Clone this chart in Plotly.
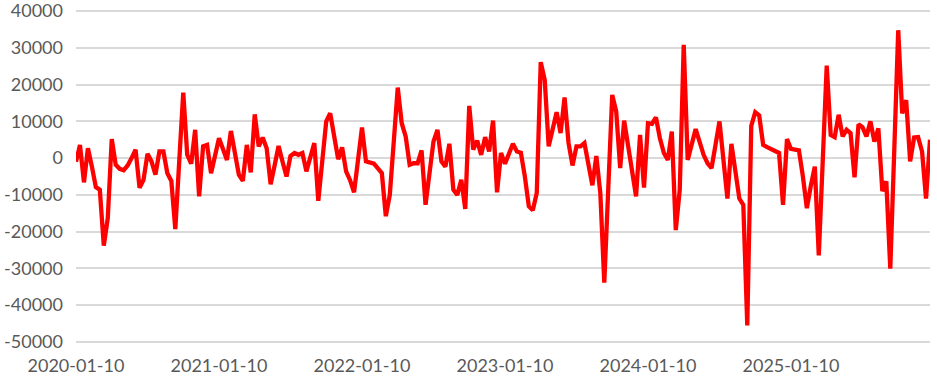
import plotly.graph_objects as go
import pandas as pd

# 10-day period dates (10th, 20th, month end) starting 2020-01-10
dates = []
for m in pd.period_range("2020-01", "2025-12", freq="M"):
    dates.append(f"{m.year:04d}-{m.month:02d}-10")
    dates.append(f"{m.year:04d}-{m.month:02d}-20")
    dates.append(f"{m.year:04d}-{m.month:02d}-{m.days_in_month:02d}")

values = [
    -1000, 3600, -6600, 2700, -2300, -7900, -8600, -23800, -16300, 5200,
    -1800, -2900, -3300, -2000, 0, 2300, -8100, -5900, 1200, -900,
    -4500, 1800, 1800, -4100, -6200, -19300, -700, 17800, 900, -1500,
    7700, -10400, 3200, 3600, -4100, 600, 5400, 2500, -500, 7400,
    1500, -4500, -6200, 3600, -3900, 11900, 3200, 5600, 2700, -7100,
    -2000, 3300, -1000, -5000, 600, 1400, 900, 1400, -3600, 300,
    4100, -11600, -800, 10000, 12200, 6000, -300, 2900, -3600, -6000,
    -9300, -500, 8300, -900, -1200, -1500, -2800, -4100, -15800, -10000,
    4500, 19200, 9500, 5900, -1800, -1400, -1400, 2100, -12700, -4000,
    4500, 7700, -900, -2300, 3900, -8600, -10000, -5900, -13800, 14200,
    2300, 4800, 900, 5700, 1800, 10200, -9300, 1400, -1500, 1200,
    3900, 1800, 1500, -5000, -13100, -14200, -9500, 26100, 21300, 3200,
    8000, 12500, 6800, 16500, 4100, -2000, 3200, 3200, 4100, -1500,
    -7400, 600, -9500, -33900, -8000, 17200, 12700, -2700, 10200, 3200,
    -3500, -10400, 6300, -8000, 9500, 9300, 11100, 5400, 1400, -500,
    7200, -19600, -8600, 30800, -500, 3700, 7900, 4400, 900, -1400,
    -2700, 3600, 10000, -500, -11000, 3900, -3500, -11000, -12700, -45500,
    8800, 12500, 11600, 3600, 3000, 2500, 2000, 1400, -12700, 5200,
    2500, 2300, 2100, -5000, -13600, -7500, -2300, -26500, 0, 25200,
    6300, 5700, 11800, 5900, 7700, 6800, -5200, 9200, 8400, 5900,
    10000, 4500, 8100, -9000, -6300, -30100, 2000, 34800, 12200, 15800,
    -900, 5600, 5700, 1800, -11000, 5000,
]

x = dates[:len(values)]
tick_labels = ["2020-01-10", "2021-01-10", "2022-01-10", "2023-01-10", "2024-01-10", "2025-01-10"]
y_ticks = [40000, 30000, 20000, 10000, 0, -10000, -20000, -30000, -40000, -50000]

fig = go.Figure()
fig.add_trace(go.Scatter(
    x=x, y=values, mode="lines",
    line=dict(color="#FF0000", width=4.3),
    hoverinfo="x+y",
))

font = dict(family="Lato, 'Open Sans', sans-serif", size=18, color="#595959")

fig.update_layout(
    width=937, height=386,
    margin=dict(l=76, r=7, t=10, b=43, autoexpand=False),
    paper_bgcolor="white", plot_bgcolor="white",
    showlegend=False,
    font=font,
)
fig.update_xaxes(
    type="category",
    range=[0, len(values) - 1],
    tickmode="array", tickvals=tick_labels, ticktext=tick_labels,
    showgrid=False, showline=False, zeroline=False,
    ticks="", ticklabelstandoff=10,
    automargin=False,
    tickfont=font,
)
fig.update_yaxes(
    range=[-50300, 40300],
    tickmode="array", tickvals=y_ticks,
    ticktext=[str(v) for v in y_ticks],
    showgrid=True, gridcolor="#D9D9D9", gridwidth=1.6,
    zeroline=False, showline=False,
    ticks="", ticklabelstandoff=12,
    ticklabeloverflow="allow",
    automargin=False,
    tickfont=font,
)

fig.write_html("out.html")
